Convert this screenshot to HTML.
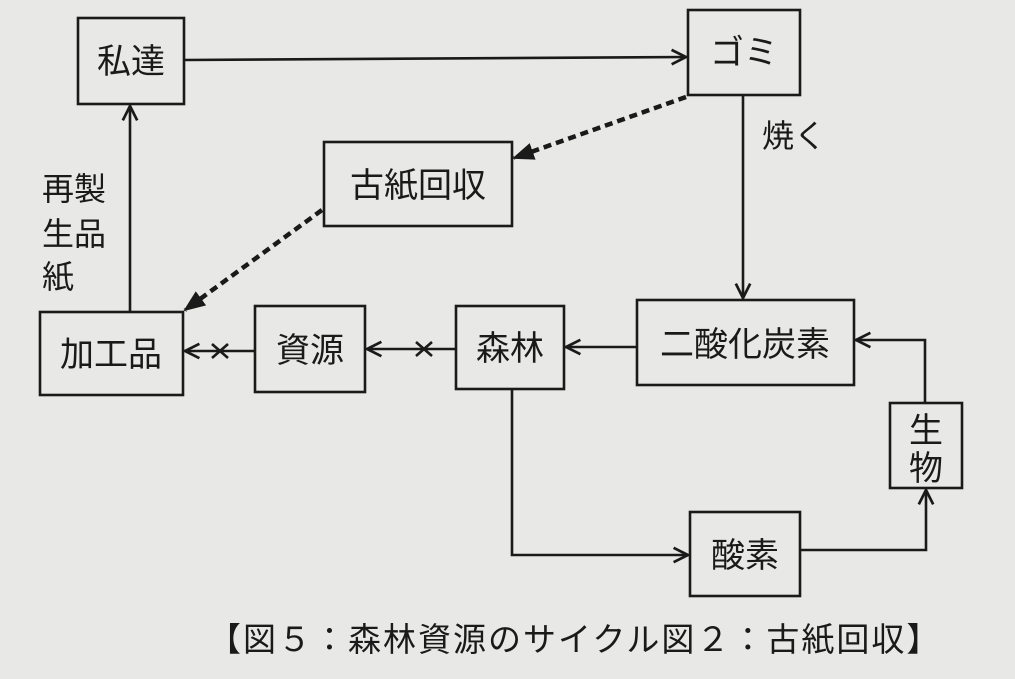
<!DOCTYPE html>
<html><head><meta charset="utf-8"><style>
html,body{margin:0;padding:0;background:#e8e8e6;}
svg{display:block}
text{font-family:"Liberation Sans","Noto Sans CJK JP",sans-serif;fill:#1a1a1a}
</style></head><body>
<svg width="1015" height="679" viewBox="0 0 1015 679" xmlns="http://www.w3.org/2000/svg">
<defs>
<marker id="a" viewBox="0 0 20 20" refX="18" refY="10" markerWidth="18" markerHeight="18" markerUnits="userSpaceOnUse" orient="auto">
<path d="M2,2 L18,10 L2,18" fill="none" stroke="#1a1a1a" stroke-width="3"/></marker>
<marker id="d" viewBox="0 0 20 20" refX="18" refY="10" markerWidth="22" markerHeight="22" markerUnits="userSpaceOnUse" orient="auto">
<path d="M0,2 L20,10 L0,18 z" fill="#1a1a1a"/></marker>
</defs>
<rect width="1015" height="679" fill="#e8e8e6"/>
<g fill="none" stroke="#1a1a1a" stroke-width="2.6">
<rect x="78" y="18" width="106" height="86"/>
<rect x="688" y="10" width="112" height="85"/>
<rect x="324" y="142" width="188" height="84"/>
<rect x="40" y="312" width="143" height="83"/>
<rect x="255" y="306" width="110" height="86"/>
<rect x="456" y="306" width="108" height="83"/>
<rect x="637" y="300" width="217" height="85"/>
<rect x="890" y="403" width="72" height="85"/>
<rect x="690" y="512" width="110" height="84"/>
<line x1="184" y1="60" x2="686" y2="57" marker-end="url(#a)"/>
<line x1="743" y1="95" x2="743" y2="298" marker-end="url(#a)"/>
<line x1="130" y1="312" x2="130" y2="106" marker-end="url(#a)"/>
<line x1="637" y1="347" x2="566" y2="347" marker-end="url(#a)"/>
<line x1="456" y1="349" x2="367" y2="349" marker-end="url(#a)"/>
<line x1="255" y1="351" x2="185" y2="351" marker-end="url(#a)"/>
<path d="M925,403 V340 H856" marker-end="url(#a)"/>
<path d="M512,389 V555 H688" marker-end="url(#a)"/>
<path d="M800,550 H926 V490" marker-end="url(#a)"/>
<path d="M416,342 L432,356 M432,342 L416,356"/>
<path d="M212,344 L228,358 M228,344 L212,358"/>
<line x1="686" y1="97" x2="514" y2="158" stroke-width="4.5" stroke-dasharray="8,5" marker-end="url(#d)"/>
<line x1="322" y1="210" x2="185" y2="310" stroke-width="4.5" stroke-dasharray="8,5" marker-end="url(#d)"/>
</g>
<g font-size="34">
<text x="131" y="73" text-anchor="middle">私達</text>
<text x="744" y="64" text-anchor="middle">ゴミ</text>
<text x="418" y="197" text-anchor="middle">古紙回収</text>
<text x="111" y="366" text-anchor="middle">加工品</text>
<text x="310" y="362" text-anchor="middle">資源</text>
<text x="510" y="360" text-anchor="middle">森林</text>
<text x="745" y="356" text-anchor="middle">二酸化炭素</text>
<text x="926" y="442" text-anchor="middle">生</text>
<text x="926" y="480" text-anchor="middle">物</text>
<text x="745" y="567" text-anchor="middle">酸素</text>
<text x="762" y="147" font-size="32">焼く</text>
<text x="42" y="200" font-size="32">再製</text>
<text x="42" y="245" font-size="32">生品</text>
<text x="42" y="288" font-size="32">紙</text>
<text x="208" y="651" font-size="33" letter-spacing="2">【図５：森林資源のサイクル図２：古紙回収】</text>
</g>
</svg>
</body></html>
